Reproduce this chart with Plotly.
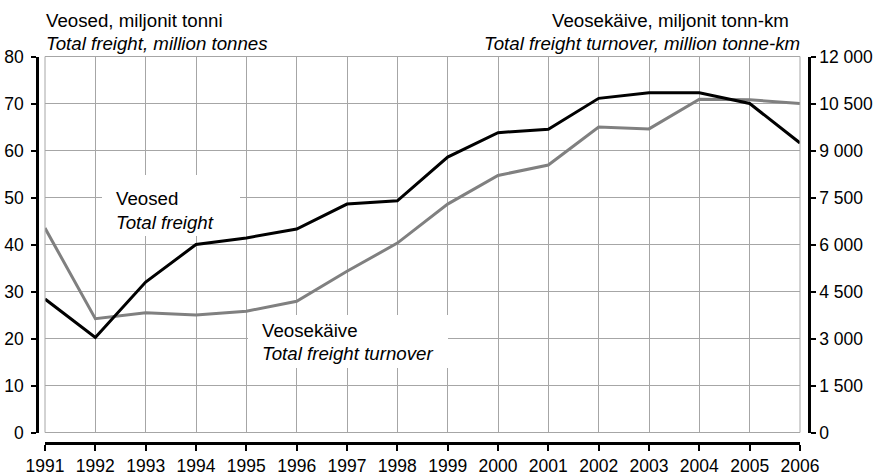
import plotly.graph_objects as go

# Estonian freight transport, 1991-2006
years = list(range(1991, 2007))
freight_mt = [28.4, 20.2, 32.0, 40.0, 41.4, 43.3, 48.6, 49.3, 58.6, 63.8,
              64.5, 71.1, 72.3, 72.3, 70.0, 61.6]
turnover_mtkm = [6525, 3630, 3825, 3750, 3870, 4190, 5145, 6045, 7290, 8205,
                 8535, 9750, 9690, 10635, 10620, 10500]

left_ticks = list(range(0, 81, 10))
right_ticks = list(range(0, 12001, 1500))

W, H = 883, 475
FONT = "Liberation Sans, Arial, sans-serif"
FS = 17.5      # tick labels
FS_TXT = 18.7  # titles and series labels


def fx(x):
    return x / W


def fy(y):
    return 1 - y / H


fig = go.Figure()

# turnover on the base (right-hand) axis so freight draws on top
fig.add_trace(go.Scatter(
    x=years, y=turnover_mtkm, mode="lines", yaxis="y",
    line=dict(color="#808080", width=3), hoverinfo="x+y", showlegend=False))
fig.add_trace(go.Scatter(
    x=years, y=freight_mt, mode="lines", yaxis="y2",
    line=dict(color="#000000", width=3), hoverinfo="x+y", showlegend=False))

tickfont = dict(family=FONT, size=FS, color="#000000")

fig.update_layout(
    width=W, height=H,
    margin=dict(l=0, r=0, t=0, b=0, autoexpand=False),
    paper_bgcolor="white", plot_bgcolor="white",
    separators=", ",
    font=dict(family=FONT, size=FS, color="#000000"),
    xaxis=dict(
        domain=[fx(45), fx(800)], range=[1991, 2006],
        anchor="free", position=fy(443), automargin=False,
        tickmode="linear", tick0=1991, dtick=1,
        ticks="outside", ticklen=6, tickwidth=2, tickcolor="#000000",
        showline=True, linecolor="#000000", linewidth=2.5,
        showgrid=True, gridcolor="#a6a6a6", gridwidth=1,
        zeroline=False, tickfont=tickfont, fixedrange=True,
    ),
    yaxis=dict(
        domain=[fy(432.5), fy(56.5)], range=[0, 12000],
        tickmode="array", tickvals=right_ticks, tickformat=",d",
        side="right", anchor="free", position=fx(809), automargin=False,
        ticks="outside", ticklen=5, tickwidth=2, tickcolor="#000000",
        showline=True, linecolor="#000000", linewidth=2.5,
        showgrid=True, gridcolor="#a6a6a6", gridwidth=1,
        zeroline=False, tickfont=tickfont, fixedrange=True,
    ),
    yaxis2=dict(
        overlaying="y", range=[0, 80],
        tickmode="array", tickvals=left_ticks,
        side="left", anchor="free", position=fx(37), automargin=False,
        ticks="outside", ticklen=5, tickwidth=2, tickcolor="#000000",
        ticklabelstandoff=4,
        showline=True, linecolor="#000000", linewidth=2.5,
        showgrid=False, zeroline=False, tickfont=tickfont, fixedrange=True,
    ),
)

# plot-area frame
fig.add_shape(type="rect", xref="paper", yref="paper",
              x0=fx(45), x1=fx(800), y0=fy(432.5), y1=fy(56.5),
              line=dict(color="#a6a6a6", width=1), layer="above")

annotations = []


def box(x0, y0, x1, y1):
    annotations.append(dict(
        text=" ", xref="paper", yref="paper", x=fx(x0), y=fy(y0),
        xanchor="left", yanchor="top", showarrow=False,
        width=x1 - x0, height=y1 - y0, bgcolor="white",
        borderpad=0, borderwidth=0))


def label(text, x, y, anchor="left"):
    annotations.append(dict(
        text=text, xref="paper", yref="paper", x=fx(x), y=fy(y),
        xanchor=anchor, yanchor="middle", align=anchor, showarrow=False,
        borderpad=0, font=dict(family=FONT, size=FS_TXT, color="#000000")))


# axis titles
label("Veosed, miljonit tonni", 45, 20)
label("<i>Total freight, million tonnes</i>", 45, 43)
label("Veosekäive, miljonit tonn-km", 790, 20, "right")
label("<i>Total freight turnover, million tonne-km</i>", 801, 43, "right")

# series labels on white boxes
box(102, 175, 240, 236)
label("Veosed", 115, 198)
label("<i>Total freight</i>", 115, 222)
box(248, 315, 448, 368)
label("Veosekäive", 261, 330)
label("<i>Total freight turnover</i>", 261, 353)

fig.update_layout(annotations=annotations)

fig.write_html("out.html")
